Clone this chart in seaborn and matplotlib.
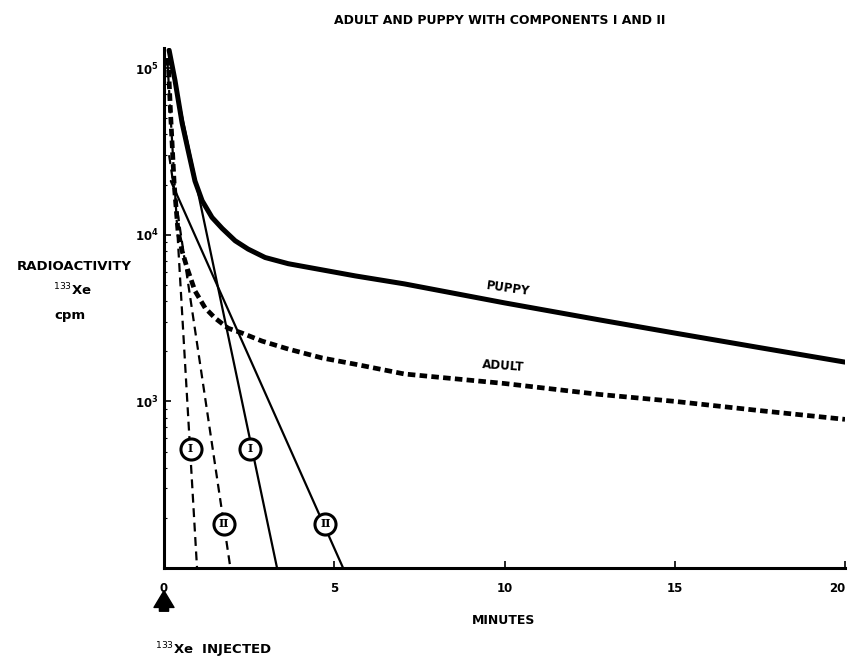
import numpy as np
import pandas as pd
import matplotlib
matplotlib.use("Agg")
import matplotlib.pyplot as plt
import seaborn as sns

# ---- data ----
puppy_t = [0.15, 0.32, 0.53, 0.71, 0.91, 1.12, 1.41, 1.71, 2.09, 2.47, 2.97, 3.65,
           4.65, 5.62, 7.06, 10.0, 12.8, 15.0, 17.5, 20.0]
puppy_v = [1.28e5, 8.5e4, 4.7e4, 3.2e4, 2.1e4, 1.6e4, 1.27e4, 1.09e4, 9.2e3, 8.2e3,
           7.3e3, 6.7e3, 6.15e3, 5.66e3, 5.07e3, 3.9e3, 3.08e3, 2.57e3, 2.1e3, 1.72e3]

adult_t = [0.12, 0.2, 0.3, 0.41, 0.53, 0.68, 0.91, 1.21, 1.5, 1.88, 2.29, 2.88, 3.65,
           4.65, 5.62, 7.06, 10.0, 12.8, 15.0, 17.5, 20.0]
adult_v = [1.15e5, 5.0e4, 2.0e4, 1.06e4, 8.0e3, 6.3e3, 4.6e3, 3.63e3, 3.16e3, 2.75e3,
           2.57e3, 2.3e3, 2.06e3, 1.82e3, 1.67e3, 1.46e3, 1.28e3, 1.1e3, 1.0e3, 0.88e3, 0.78e3]

# components (straight lines on the log scale): start and end points
puppy_I_t = [0.15, 3.32]
puppy_I_v = [1.2e5, 100]
puppy_II_t = [0.2, 5.26]
puppy_II_v = [2.1e4, 100]
adult_I_t = [0.1, 0.97]
adult_I_v = [1.1e5, 100]
adult_II_t = [0.15, 1.95]
adult_II_v = [3.0e4, 100]

# circled component labels
circle_t = [2.53, 4.74, 0.78, 1.76]
circle_v = [520, 184, 520, 184]
circle_txt = ["I", "II", "I", "II"]

x_ticks = [0, 5, 10, 15, 20]
y_ticks = [1e3, 1e4, 1e5]
y_ticklabels = [r"$\mathbf{10^3}$", r"$\mathbf{10^4}$", r"$\mathbf{10^5}$"]

# ---- plotting ----
sns.set_style("ticks")
plt.rcParams["font.family"] = ["DejaVu Sans"]
plt.rcParams.update({"text.color": "black", "xtick.color": "black",
                     "ytick.color": "black", "axes.edgecolor": "black",
                     "axes.labelcolor": "black"})

fig = plt.figure(figsize=(8.49, 6.61), dpi=100)
ax = fig.add_axes([164 / 849, 1 - 568 / 661, (845 - 164) / 849, (568 - 48) / 661])

def df(t, v):
    return pd.DataFrame({"t": t, "v": v})

sns.lineplot(data=df(puppy_t, puppy_v), x="t", y="v", ax=ax, color="black",
             lw=3.6, estimator=None, sort=False, solid_joinstyle="round",
             solid_capstyle="round")
sns.lineplot(data=df(adult_t, adult_v), x="t", y="v", ax=ax, color="black",
             lw=3.4, estimator=None, sort=False, linestyle=(0, (1.6, 0.9)))
sns.lineplot(data=df(puppy_I_t, puppy_I_v), x="t", y="v", ax=ax, color="black",
             lw=1.6, estimator=None, sort=False)
sns.lineplot(data=df(puppy_II_t, puppy_II_v), x="t", y="v", ax=ax, color="black",
             lw=1.6, estimator=None, sort=False)
sns.lineplot(data=df(adult_I_t, adult_I_v), x="t", y="v", ax=ax, color="black",
             lw=1.6, estimator=None, sort=False, linestyle=(0, (4, 2.5)))
sns.lineplot(data=df(adult_II_t, adult_II_v), x="t", y="v", ax=ax, color="black",
             lw=1.6, estimator=None, sort=False, linestyle=(0, (4, 2.5)))

sns.scatterplot(x=circle_t, y=circle_v, ax=ax, s=230, facecolor="white",
                edgecolor="black", linewidth=2.2, zorder=5)
for t, v, s in zip(circle_t, circle_v, circle_txt):
    ax.text(t, v, s, ha="center", va="center", fontsize=8, fontweight="bold",
            zorder=6, family="DejaVu Serif")

ax.set_yscale("log")
ax.set_xlim(0, 20)
ax.set_ylim(100, 1.32e5)
ax.set_xticks(x_ticks)
xl = ax.set_xticklabels([str(x) for x in x_ticks], fontsize=8.5, fontweight="bold")
xl[-1].set_horizontalalignment("right")
ax.set_yticks(y_ticks)
ax.set_yticklabels(y_ticklabels, fontsize=8.5)
ax.tick_params(axis="x", which="major", direction="in", length=5, width=1.2, pad=10)
ax.tick_params(axis="y", which="major", direction="in", length=5, width=1.2, pad=4)
ax.tick_params(axis="y", which="minor", direction="in", length=2, width=0.8)
ax.tick_params(axis="x", which="minor", bottom=False)
ax.set_xlabel("")
ax.set_ylabel("")
for side in ["top", "right"]:
    ax.spines[side].set_visible(False)
for side in ["left", "bottom"]:
    ax.spines[side].set_linewidth(2.2)

# curve labels
ax.text(10.1, 4.75e3, "PUPPY", fontsize=8.5, fontweight="bold", rotation=-8,
        ha="center", va="center")
ax.text(9.95, 1.62e3, "ADULT", fontsize=8.5, fontweight="bold", rotation=-4,
        ha="center", va="center")

# title and axis texts
fig.text(500 / 849, 1 - 20 / 661, "ADULT AND PUPPY WITH COMPONENTS I AND II",
         ha="center", va="center", fontsize=9, fontweight="bold")
fig.text(74 / 849, 1 - 267 / 661, "RADIOACTIVITY", ha="center", va="center",
         fontsize=9.5, fontweight="bold")
fig.text(72 / 849, 1 - 290 / 661, r"$^{133}$Xe", ha="center", va="center",
         fontsize=9.5, fontweight="bold")
fig.text(70 / 849, 1 - 316 / 661, "cpm", ha="center", va="center",
         fontsize=9.5, fontweight="bold")
fig.text(504 / 849, 1 - 620 / 661, "MINUTES", ha="center", va="center",
         fontsize=9, fontweight="bold")
fig.text(155 / 849, 1 - 650 / 661, r"$^{133}$Xe  INJECTED", ha="left", va="center",
         fontsize=9.5, fontweight="bold")
fig.patches.append(matplotlib.patches.FancyArrowPatch(
    (164 / 849, 1 - 614 / 661), (164 / 849, 1 - 588 / 661),
    transform=fig.transFigure,
    arrowstyle="simple,head_width=1.2,head_length=1.0,tail_width=0.55",
    mutation_scale=12, color="black"))

fig.savefig("out.png", dpi=100, facecolor="white")
